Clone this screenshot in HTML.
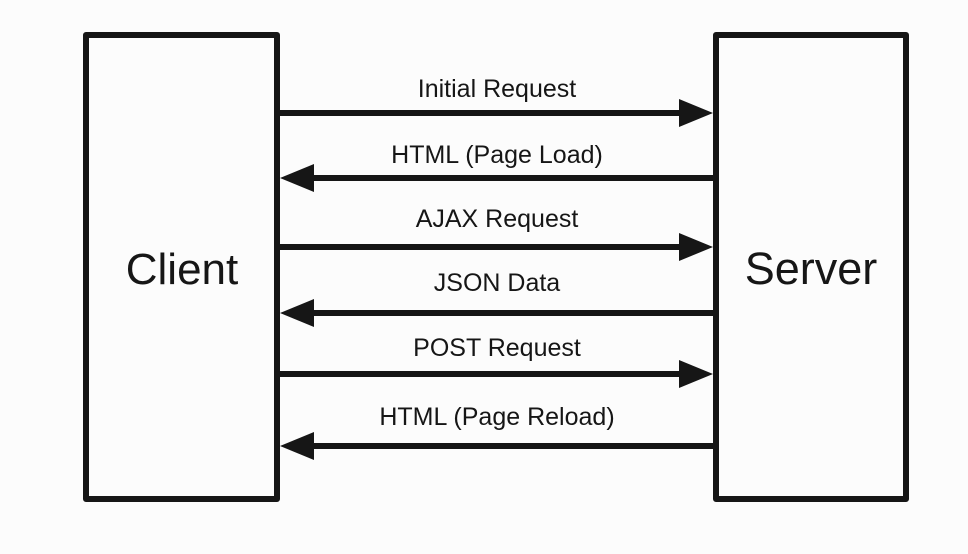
<!DOCTYPE html>
<html><head><style>
html,body{margin:0;padding:0;background:#fcfcfc;}
svg{display:block;}
text{font-family:"Liberation Sans",Arial,sans-serif;fill:#161616;}
</style></head><body>
<svg width="968" height="554" viewBox="0 0 968 554" xmlns="http://www.w3.org/2000/svg">
<rect x="0" y="0" width="968" height="554" fill="#fcfcfc"/>
<g stroke="#161616" stroke-width="6" fill="none" stroke-linejoin="round">
<rect x="86" y="35" width="191" height="464"/>
<rect x="716" y="35" width="190" height="464"/>
</g>
<g stroke="#161616" stroke-width="6">
<line x1="277" y1="113" x2="682" y2="113"/>
<line x1="312" y1="178" x2="716" y2="178"/>
<line x1="277" y1="247" x2="682" y2="247"/>
<line x1="312" y1="313" x2="716" y2="313"/>
<line x1="277" y1="374" x2="682" y2="374"/>
<line x1="312" y1="446" x2="716" y2="446"/>
</g>
<g fill="#161616">
<polygon points="713,113 679,99 679,127"/>
<polygon points="280,178 314,164 314,192"/>
<polygon points="713,247 679,233 679,261"/>
<polygon points="280,313 314,299 314,327"/>
<polygon points="713,374 679,360 679,388"/>
<polygon points="280,446 314,432 314,460"/>
</g>
<g font-size="25" text-anchor="middle" textLength="">
<text x="497" y="97">Initial Request</text>
<text x="497" y="163">HTML (Page Load)</text>
<text x="497" y="227">AJAX Request</text>
<text x="497" y="291">JSON Data</text>
<text x="497" y="356">POST Request</text>
<text x="497" y="425">HTML (Page Reload)</text>
</g>
<g text-anchor="middle">
<text x="182" y="284" font-size="44">Client</text>
<text x="811" y="284" font-size="45">Server</text>
</g>
</svg>
</body></html>
